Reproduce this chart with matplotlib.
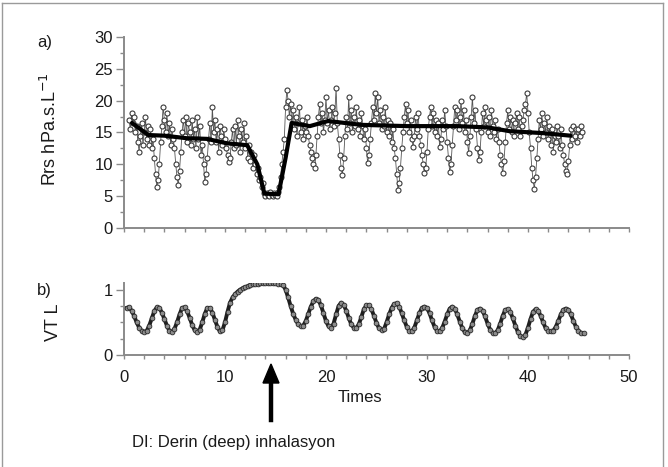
import matplotlib
matplotlib.use('Agg')
import matplotlib.pyplot as plt
from matplotlib.lines import Line2D
from matplotlib.ticker import MultipleLocator
import numpy as np

plt.rcParams['font.family'] = ['Liberation Sans', 'DejaVu Sans']

# a) respiratory resistance, sampled every 0.125 time units from t = 0.5
RRS_T0, RRS_STEP = 0.5, 0.125
rrs = [
    17.0, 15.5, 18.0, 16.5,
    17.5, 15.0, 16.0, 13.5, 12.0, 14.5, 16.5, 13.0,
    15.0, 17.5, 14.0, 16.0, 13.0, 15.5, 12.5, 14.0,
    11.0, 8.5, 6.4, 7.5, 10.0, 13.5, 16.0, 19.0,
    17.0, 15.0, 18.0, 14.5, 16.5, 13.0, 15.5, 14.0,
    12.5, 10.0, 8.0, 6.7, 9.0, 12.0, 15.0, 17.0,
    14.5, 17.5, 13.5, 16.5, 15.0, 13.0, 17.0, 14.0,
    15.5, 12.5, 17.5, 14.0, 16.0, 11.5, 13.0, 10.0,
    7.2, 8.5, 11.0, 14.0, 16.5, 13.5, 19.0, 15.0,
    17.0, 13.5, 15.5, 12.0, 16.0, 14.5, 13.0, 15.5,
    14.0, 12.5, 11.5, 10.4, 11.0, 13.5, 15.5, 12.5,
    16.0, 13.0, 17.0, 14.5, 12.0, 15.5, 13.5, 16.5,
    12.5, 14.5, 11.0, 13.0, 10.5, 12.0, 9.5, 11.5,
    10.0, 8.5, 9.5, 7.5, 8.0, 6.5, 7.0, 5.5,
    5.0, 5.5, 5.2, 5.0, 5.6, 5.2, 5.0, 5.5,
    5.2, 5.0, 5.6, 6.5, 8.0, 10.0, 12.0, 14.0,
    19.0, 21.7, 20.0, 17.5, 19.5, 16.0, 18.5, 15.5,
    17.5, 14.5, 16.5, 19.0, 15.0, 17.0, 14.0, 16.0,
    15.0, 17.5, 14.5, 13.0, 12.0, 11.0, 10.0, 9.4,
    11.5, 14.5, 17.5, 19.5, 16.5, 18.0, 15.0, 17.0,
    20.5, 16.5, 18.5, 15.5, 17.0, 19.0, 16.0, 18.0,
    22.0, 16.5, 14.0, 11.5, 9.5, 8.3, 11.0, 14.5,
    17.5, 15.5, 20.5, 16.5, 18.5, 15.0, 17.5, 16.0,
    19.0, 15.5, 17.0, 14.5, 18.0, 16.0, 14.0, 15.5,
    12.5, 10.2, 11.5, 14.0, 16.5, 19.0, 17.0, 21.2,
    18.0, 20.5, 16.5, 18.5, 15.5, 17.5, 16.0, 19.0,
    15.0, 17.0, 14.5, 16.5, 13.5, 15.5, 12.5, 11.0,
    8.5, 6.0, 7.0, 9.5, 12.5, 15.0, 17.5, 19.5,
    16.5, 18.5, 15.0, 17.0, 14.0, 12.7, 14.5, 17.5,
    15.5, 18.0, 14.5, 13.0, 11.5, 10.0, 8.6, 9.5,
    12.0, 15.5, 17.5, 19.0, 16.0, 18.0, 15.0, 17.0,
    14.5, 16.5, 12.7, 14.0, 17.0, 15.5, 18.5, 16.0,
    13.5, 11.0, 8.8, 10.0, 13.0, 16.0, 19.0, 17.0,
    18.5, 15.5, 17.5, 20.0, 16.5, 18.5, 15.0, 17.0,
    13.5, 11.8, 14.5, 17.5, 20.6, 16.5, 18.5, 15.5,
    12.5, 10.7, 12.0, 15.0, 18.0, 16.0, 19.0, 17.0,
    15.0, 17.5, 14.5, 18.5, 16.0, 15.0, 17.0, 14.0,
    15.5, 13.5, 11.5, 10.0, 8.6, 10.5, 13.5, 16.5,
    18.5, 15.5, 17.5, 15.0, 17.0, 14.5, 16.5, 18.0,
    15.5, 17.5, 14.5, 16.0, 17.0, 18.5, 19.5, 21.2,
    18.0, 15.0, 12.5, 9.5, 7.5, 6.2, 8.0, 11.0,
    14.0, 17.0, 15.5, 18.0, 14.5, 16.5, 15.0, 17.5,
    14.0, 16.0, 13.0, 15.5, 12.0, 14.5, 13.5, 16.0,
    14.5, 12.5, 15.5, 13.0, 11.5, 10.0, 9.0, 8.5,
    10.5, 13.0, 15.5, 14.0, 16.0, 14.5, 15.5, 13.5,
    15.5, 14.5, 16.0, 15.0,
]

# a) smoothed trend (thick line)
trend_t = [0.8, 2.4, 4.0, 6.2, 8.2, 10.2, 12.2, 13.2, 13.9, 15.3, 16.0,
           16.6, 18.4, 20.2, 23.5, 28.0, 33.0, 36.0, 38.2, 41.5, 44.2]
trend_v = [16.5, 14.6, 14.5, 14.1, 14.0, 13.3, 13.0, 10.0, 5.4, 5.3, 11.0,
           16.5, 16.0, 16.8, 16.2, 16.0, 16.0, 15.8, 15.2, 14.9, 14.5]

# b) tidal volume, sampled every 0.25 time units from t = 0.25
VT_T0, VT_STEP = 0.25, 0.25
vt = [
    0.72, 0.73, 0.68, 0.60, 0.50, 0.42, 0.37, 0.35, 0.37, 0.45,
    0.56, 0.67, 0.73, 0.72, 0.65, 0.55, 0.45, 0.37, 0.35, 0.40,
    0.50, 0.62, 0.72, 0.73, 0.67, 0.57, 0.46, 0.38, 0.35, 0.39,
    0.50, 0.63, 0.72, 0.72, 0.65, 0.54, 0.43, 0.36, 0.38, 0.50,
    0.66, 0.80, 0.88, 0.93, 0.97, 1.00, 1.02, 1.04, 1.05, 1.07,
    1.08, 1.09, 1.09, 1.10, 1.10, 1.10, 1.10, 1.10, 1.10, 1.10,
    1.09, 1.09, 1.07, 1.00, 0.88, 0.75, 0.63, 0.54, 0.47, 0.44,
    0.45, 0.52, 0.63, 0.74, 0.82, 0.86, 0.84, 0.76, 0.64, 0.52,
    0.44, 0.42, 0.48, 0.62, 0.75, 0.80, 0.77, 0.68, 0.57, 0.47,
    0.42, 0.41, 0.47, 0.58, 0.70, 0.76, 0.76, 0.70, 0.60, 0.49,
    0.41, 0.38, 0.40, 0.50, 0.62, 0.72, 0.78, 0.79, 0.74, 0.64,
    0.53, 0.43, 0.37, 0.36, 0.42, 0.53, 0.64, 0.72, 0.74, 0.72,
    0.64, 0.53, 0.43, 0.37, 0.36, 0.41, 0.51, 0.62, 0.71, 0.74,
    0.71, 0.62, 0.51, 0.41, 0.35, 0.33, 0.38, 0.48, 0.60, 0.69,
    0.71, 0.68, 0.59, 0.48, 0.39, 0.34, 0.33, 0.38, 0.48, 0.60,
    0.69, 0.70, 0.66, 0.56, 0.45, 0.35, 0.29, 0.27, 0.31, 0.42,
    0.55, 0.66, 0.70, 0.68, 0.60, 0.50, 0.41, 0.37, 0.36, 0.37,
    0.43, 0.52, 0.62, 0.69, 0.71, 0.69, 0.62, 0.52, 0.43, 0.37,
    0.34, 0.33,
]

x_ticks = [0, 10, 20, 30, 40, 50]
AXCOL = '#8a8a8a'
TXT = '#1a1a1a'
FS = 12


def px(x, y):
    # reference pixel -> figure fraction
    return x / 668, 1 - y / 467


def style_axis(ax):
    for s in ('top', 'right'):
        ax.spines[s].set_visible(False)
    for s in ('left', 'bottom'):
        ax.spines[s].set_color(AXCOL)
        ax.spines[s].set_linewidth(1.4)
    ax.set_xlim(0, 50)
    ax.xaxis.set_major_locator(MultipleLocator(10))
    ax.xaxis.set_minor_locator(MultipleLocator(2))
    ax.tick_params(which='both', color=AXCOL, width=1.0, labelcolor=TXT,
                   labelsize=FS)
    ax.tick_params(axis='x', which='both', direction='out', length=3)
    ax.tick_params(axis='y', which='major', direction='out', length=6, pad=2)
    ax.tick_params(axis='y', which='minor', direction='out', length=3)


def main():
    fig = plt.figure(figsize=(6.68, 4.67), dpi=100)

    ax1 = fig.add_axes([0.1856, 0.5118, 0.756, 0.409])
    ax2 = fig.add_axes([0.1856, 0.2398, 0.756, 0.154])
    ax1.patch.set_alpha(0)
    ax2.patch.set_alpha(0)

    t_rrs = RRS_T0 + RRS_STEP * np.arange(len(rrs))
    t_vt = VT_T0 + VT_STEP * np.arange(len(vt))

    # --- a) Rrs
    ax1.plot(t_rrs, rrs, '-', color='#555555', lw=0.6, zorder=2)
    ax1.plot(t_rrs, rrs, 'o', ms=3.6, mfc='white', mec='#3a3a3a',
             mew=0.8, zorder=3)
    ax1.plot(trend_t, trend_v, '-', color='black', lw=3.0,
             solid_capstyle='round', zorder=4)
    style_axis(ax1)
    ax1.set_ylim(0, 30)
    ax1.yaxis.set_major_locator(MultipleLocator(5))
    ax1.yaxis.set_minor_locator(MultipleLocator(2.5))
    ax1.tick_params(axis='x', labelbottom=False)

    # --- b) VT
    ax2.plot(t_vt, vt, '-', color='#1e1e1e', lw=2.8, zorder=2)
    ax2.plot(t_vt, vt, 'o', ms=3.4, mfc='#8c8c8c', mec='#2a2a2a',
             mew=0.6, zorder=3)
    style_axis(ax2)
    ax2.set_ylim(0, 1.1)
    ax2.set_yticks([0, 1])
    ax2.yaxis.set_minor_locator(MultipleLocator(0.25))
    ax2.set_xticks(x_ticks)
    ax2.tick_params(axis='x', pad=8)

    # axis titles, panel letters, annotation
    fig.text(*px(50, 129), 'Rrs hPa.s.L$^{-1}$', fontsize=13, color=TXT,
             rotation=90, ha='center', va='center')
    fig.text(*px(54, 322), 'VT L', fontsize=13, color=TXT,
             rotation=90, ha='center', va='center')
    fig.text(*px(37, 43), 'a)', fontsize=FS, color=TXT,
             va='center', ha='left')
    fig.text(*px(37, 290), 'b)', fontsize=FS, color=TXT,
             va='center', ha='left')
    fig.text(*px(360, 397), 'Times', fontsize=FS, color=TXT,
             va='center', ha='center')
    fig.text(*px(132, 443), 'DI: Derin (deep) inhalasyon',
             fontsize=FS, color=TXT, va='center', ha='left')

    # upward arrow marking the deep inhalation
    fig.patches.append(plt.Polygon(
        [px(271, 364), px(263, 383), px(279, 383)],
        closed=True, transform=fig.transFigure, color='black', figure=fig))
    fig.add_artist(Line2D(*zip(px(271, 380), px(271, 420)),
                          transform=fig.transFigure, color='black', lw=3.2))

    # thin frame round the figure
    for a, b in ((px(2, 3), px(2, 467)), (px(2, 3), px(663, 3)),
                 (px(663, 3), px(663, 467))):
        fig.add_artist(Line2D(*zip(a, b), transform=fig.transFigure,
                              color='#9a9a9a', lw=1.0))

    fig.savefig('out.png', dpi=100)


if __name__ == '__main__':
    main()
